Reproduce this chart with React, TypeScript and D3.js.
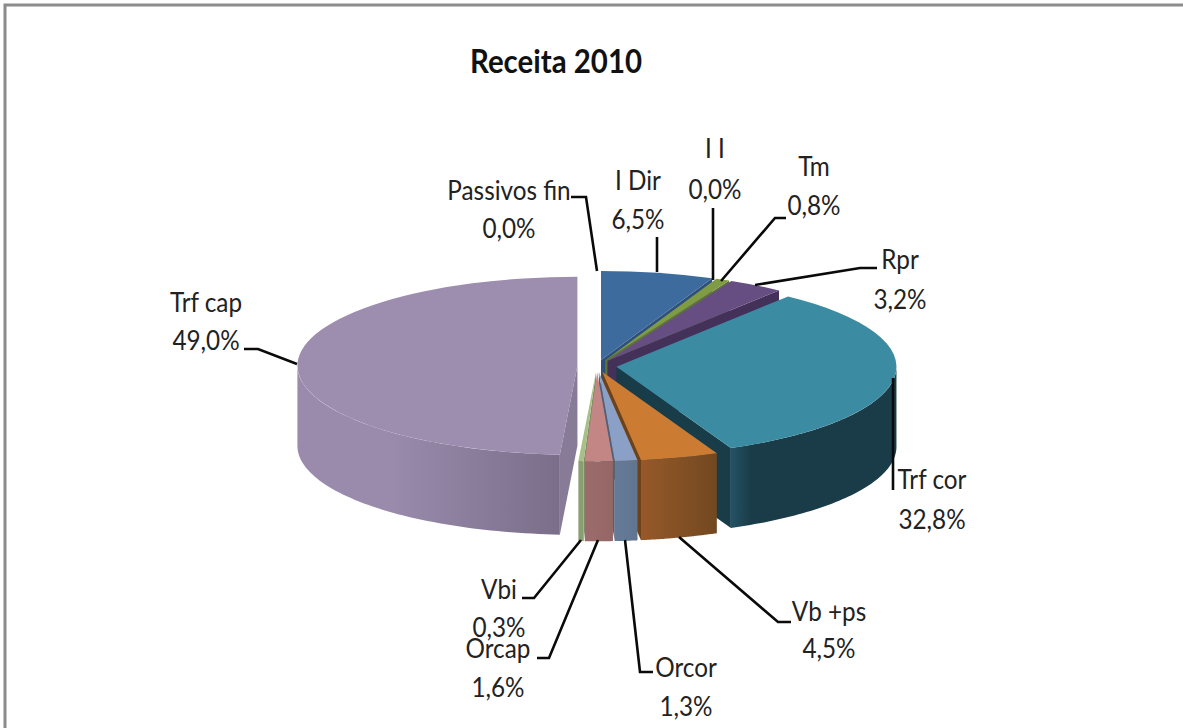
import React from 'react';
import * as d3 from 'd3';

const width = 1183;
const height = 728;

const categories = ['I Dir', 'I I', 'Tm', 'Rpr', 'Trf cor', 'Vb +ps', 'Orcor', 'Orcap', 'Vbi', 'Trf cap', 'Passivos fin'];
const values = [6.5, 0.0, 0.8, 3.2, 32.8, 4.5, 1.3, 1.6, 0.3, 49.0, 0.0];

const topColors = ['#3e6b9e', '#c0504d', '#7f9c45', '#674e82', '#3b8ca3', '#cc7b33', '#8aa0c6', '#c48684', '#a9bf88', '#9d8dae', '#8cb3d9'];
const wallLeft = ['#2f507a', '#8f3c3a', '#5f7534', '#443358', '#235366', '#96592a', '#667b98', '#9b6c6b', '#8b9e72', '#9a8bac', '#6a86a3'];
const wallRight = ['#2f507a', '#8f3c3a', '#5f7534', '#443358', '#1a3c48', '#724820', '#5f7590', '#946665', '#8b9e72', '#7a6e8a', '#6a86a3'];
const cutColors = ['#2f507a', '#8f3c3a', '#5f7534', '#44315a', '#183c48', '#6e4219', '#4f6078', '#7f5554', '#7c8e64', '#877b98', '#6a86a3'];

// paint order, back slices first
const paintOrder = [0, 2, 3, 4, 5, 6, 9, 8, 7];

// label text centres and leader lines
const labelLayout = [
  { x: 638, y: 190, y2: 229, leader: [[657, 237], [657, 272]] },
  { x: 715, y: 158, y2: 199, leader: [[713, 208], [713, 280]] },
  { x: 814, y: 176, y2: 215, leader: [[786, 218], [775, 218], [721, 281]] },
  { x: 900, y: 269, y2: 309, leader: [[877, 268], [860, 268], [755, 285]] },
  { x: 932, y: 489, y2: 529, leader: [[893, 378], [893, 490]] },
  { x: 829, y: 621, y2: 658, leader: [[791, 622], [778, 622], [679, 537]] },
  { x: 686, y: 677, y2: 716, leader: [[653, 672], [640, 672], [625, 540]] },
  { x: 498, y: 658, y2: 697, leader: [[537, 658], [549, 658], [598, 540]] },
  { x: 499, y: 599, y2: 637, leader: [[522, 598], [534, 598], [581, 540]] },
  { x: 206, y: 312, y2: 350, leader: [[244, 349], [258, 349], [297, 364]] },
  { x: 509, y: 200, y2: 238, leader: [[571, 197], [586, 197], [597, 271]] },
];

const cx = 597;
const cy = 366;
const rx = 280;
const ry = 89;
const depth = 80;
const explode = 0.07;
const squeeze = 0.9;

const fontFamily = 'Lato, "Noto Sans", sans-serif';

const pie = d3.pie<number>().sort(null).startAngle(0).endAngle(2 * Math.PI);
const arcs = pie(values);
const arc = d3.arc<d3.PieArcDatum<number>>().innerRadius(0).outerRadius(rx);
const pct = (v: number) => d3.format('.1f')(v).replace('.', ',') + '%';

const centre = (a: d3.PieArcDatum<number>) => {
  const mid = (a.startAngle + a.endAngle) / 2;
  return [cx + explode * rx * Math.sin(mid), cy - explode * ry * Math.cos(mid)];
};

// outer wall follows the front half of the ellipse only
const outerWall = (a: d3.PieArcDatum<number>) => {
  const from = Math.max(a.startAngle, Math.PI / 2);
  const to = Math.min(a.endAngle, 1.5 * Math.PI);
  if (to <= from) return null;
  const [ox, oy] = centre(a);
  const t = d3.scaleLinear().domain([0, 60]).range([from, to]);
  return d3
    .area<number>()
    .x(i => ox + rx * Math.sin(t(i)))
    .y0(i => oy - ry * Math.cos(t(i)))
    .y1(i => oy - ry * Math.cos(t(i)) + depth)(d3.range(61));
};

// radial cut face, seen only when it turns towards the viewer
const cutWall = (a: d3.PieArcDatum<number>) => {
  const angle = a.endAngle < Math.PI ? a.endAngle : a.startAngle > Math.PI ? a.startAngle : null;
  if (angle === null) return null;
  const [ox, oy] = centre(a);
  return d3
    .area<number>()
    .x(f => ox + f * rx * Math.sin(angle))
    .y0(f => oy - f * ry * Math.cos(angle))
    .y1(f => oy - f * ry * Math.cos(angle) + depth)([0, 1]);
};

const leaderLine = d3.line();

export default function App() {
  return (
    <svg
      width={width}
      height={height}
      style={{ position: 'fixed', left: 0, top: 0, background: '#fff', display: 'block' }}
    >
      <defs>
        {paintOrder.map(i => {
          const [ox] = centre(arcs[i]);
          const from = Math.max(arcs[i].startAngle, Math.PI / 2);
          const to = Math.min(arcs[i].endAngle, 1.5 * Math.PI);
          const xa = ox + rx * Math.sin(from);
          const xb = ox + rx * Math.sin(to);
          return (
            <linearGradient
              key={i}
              id={'wall' + i}
              gradientUnits="userSpaceOnUse"
              x1={Math.min(xa, xb)}
              x2={Math.max(xa, xb)}
              y1={0}
              y2={0}
            >
              <stop offset="0" stopColor={wallLeft[i]} />
              {i === 4 && <stop offset="0.12" stopColor={wallRight[i]} />}
              {i === 9 && <stop offset="0.35" stopColor={wallLeft[i]} />}
              <stop offset="1" stopColor={wallRight[i]} />
            </linearGradient>
          );
        })}
      </defs>

      <path d={`M5,${height}V5H${width}`} fill="none" stroke="#8c8c8c" strokeWidth={3} />

      <text
        transform="translate(556,73) scale(0.92,1)"
        textAnchor="middle"
        fontFamily={fontFamily}
        fontWeight="bold"
        fontSize={32}
        fill="#111"
      >
        Receita 2010
      </text>

      {paintOrder.map(i => {
        const a = arcs[i];
        const [ox, oy] = centre(a);
        const wall = outerWall(a);
        const cut = cutWall(a);
        return (
          <g key={categories[i]}>
            {cut && <path d={cut} fill={cutColors[i]} />}
            {wall && <path d={wall} fill={`url(#wall${i})`} />}
            <path
              d={arc(a) as string}
              transform={`translate(${ox},${oy}) scale(1,${ry / rx})`}
              fill={topColors[i]}
            />
          </g>
        );
      })}

      {categories.map((c, i) => (
        <g key={c}>
          <path
            d={leaderLine(labelLayout[i].leader as [number, number][]) as string}
            fill="none"
            stroke="#0a0a0a"
            strokeWidth={2.6}
          />
          <g fontFamily={fontFamily} fontSize={27} fill="#222" textAnchor="middle">
            <text transform={`translate(${labelLayout[i].x},${labelLayout[i].y}) scale(${squeeze},1)`}>{c}</text>
            <text transform={`translate(${labelLayout[i].x},${labelLayout[i].y2}) scale(${squeeze},1)`}>{pct(values[i])}</text>
          </g>
        </g>
      ))}
    </svg>
  );
}
